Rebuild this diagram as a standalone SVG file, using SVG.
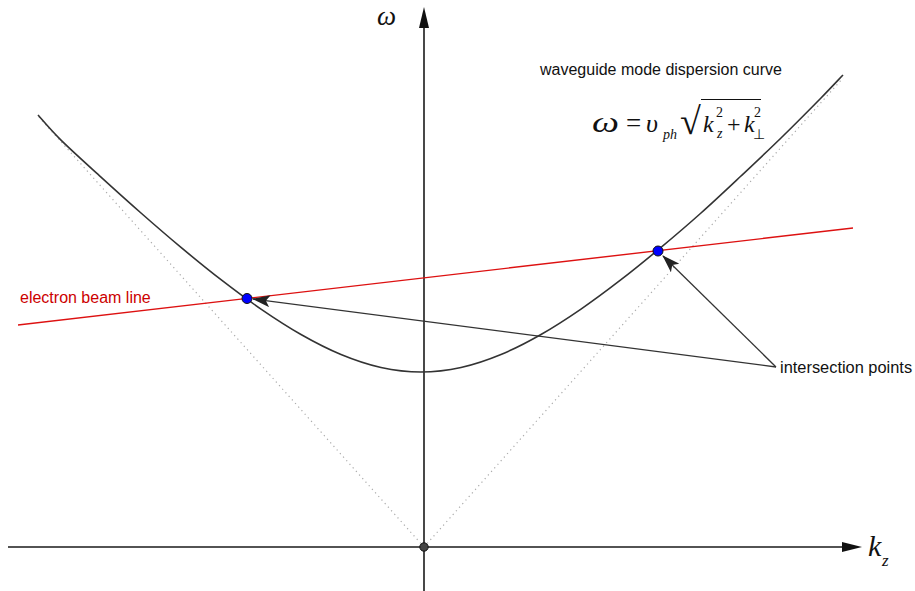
<svg xmlns="http://www.w3.org/2000/svg" width="915" height="591" viewBox="0 0 915 591">
<style>
.axis{stroke:#1a1a1a;stroke-width:1.6;fill:none}
.curve{stroke:#333;stroke-width:1.6;fill:none}
.dots{stroke:#aaa;stroke-width:1.2;stroke-dasharray:1.2 3.6;fill:none}
.beam{stroke:#dd1111;stroke-width:1.4;fill:none}
.ann{stroke:#333;stroke-width:1.3;fill:none}
.lbl{font-family:"Liberation Sans",Arial,sans-serif;fill:#111}
.math{font-family:"Liberation Serif","Times New Roman",serif;font-style:italic;fill:#111}
.up{font-family:"Liberation Serif","Times New Roman",serif;fill:#111}
</style>
<defs>
<marker id="ah" markerUnits="userSpaceOnUse" markerWidth="18" markerHeight="12" viewBox="0 0 18 12" refX="17" refY="6" orient="auto">
<path d="M0,0 L18,6 L0,12 L4,6 z" fill="#222"/>
</marker>
</defs>
<rect width="915" height="591" fill="#fff"/>
<g id="asymptotes">
<line class="dots" x1="424" y1="547" x2="38" y2="116"/>
<line class="dots" x1="424" y1="547" x2="843" y2="78"/>
</g>
<g id="axes">
<line class="axis" x1="8" y1="547" x2="846" y2="547"/>
<polygon points="862,547 842,542 842,552" fill="#111"/>
<line class="axis" x1="424" y1="591" x2="424" y2="24"/>
<polygon points="424,7 419,28 429,28" fill="#111"/>
<text class="math" x="377" y="25" font-size="27">ω</text>
<text class="math" x="868" y="556" font-size="30">k</text>
<text class="math" x="882" y="566" font-size="17">z</text>
</g>
<g id="dispersion-curve">
<path class="curve" d="M38,115 C41.8,119.2 50.5,129.75 61,140.1 C71.5,150.45 87.67,164.95 101,177.1 C114.33,189.25 127.67,201.28 141,213 C154.33,224.72 167.67,236.28 181,247.4 C194.33,258.52 207.67,269.42 221,279.7 C234.33,289.98 247.67,299.97 261,309.1 C274.33,318.23 287.67,326.93 301,334.5 C314.33,342.07 327.67,349 341,354.5 C354.33,360 367.67,364.58 381,367.5 C394.33,370.42 407.67,372 421,372 C434.33,372 447.67,370.42 461,367.5 C474.33,364.58 487.67,360 501,354.5 C514.33,349 527.67,342.07 541,334.5 C554.33,326.93 567.67,318.23 581,309.1 C594.33,299.97 607.67,289.98 621,279.7 C634.33,269.42 647.67,258.52 661,247.4 C674.33,236.28 687.67,224.9 701,213 C714.33,201.1 727.67,188.5 741,176 C754.33,163.5 767.67,151 781,138 C794.33,125 810.67,108.5 821,98 C831.33,87.5 839.33,78.83 843,75"/>
</g>
<g id="beam-line">
<line class="beam" x1="18" y1="325" x2="853" y2="228"/>
<text class="lbl" x="20" y="303" font-size="16" style="fill:#cc0000">electron beam line</text>
</g>
<g id="connectors">
<line class="ann" x1="776" y1="367" x2="253" y2="299" marker-end="url(#ah)"/>
<line class="ann" x1="776" y1="367" x2="663" y2="256" marker-end="url(#ah)"/>
</g>
<g id="origin">
<circle cx="424" cy="547" r="4.2" fill="#444" stroke="#111" stroke-width="1"/>
</g>
<g id="point-left">
<circle cx="247" cy="298.5" r="5" fill="#0000ff" stroke="#111" stroke-width="1"/>
</g>
<g id="point-right">
<circle cx="658" cy="251" r="5" fill="#0000ff" stroke="#111" stroke-width="1"/>
</g>
<g id="intersection-label">
<text class="lbl" x="780" y="373" font-size="16.4">intersection points</text>
</g>
<g id="title">
<text class="lbl" x="540" y="75" font-size="16">waveguide mode dispersion curve</text>
</g>
<g id="formula">
<text class="math" x="592" y="132" font-size="30" textLength="27" lengthAdjust="spacingAndGlyphs">ω</text>
<text class="up" x="626" y="132" font-size="27">=</text>
<text class="math" x="646" y="132" font-size="26">υ</text>
<text class="math" x="663" y="139" font-size="14">ph</text>
<text class="up" x="680" y="134" font-size="38">√</text>
<line x1="701" y1="99.5" x2="761" y2="99.5" stroke="#111" stroke-width="1.2"/>
<text class="math" x="703" y="132" font-size="24">k</text>
<text class="up" x="716" y="117" font-size="14">2</text>
<text class="math" x="717" y="138" font-size="14">z</text>
<text class="up" x="727" y="132" font-size="24">+</text>
<text class="math" x="744" y="132" font-size="24">k</text>
<text class="up" x="754" y="117" font-size="14">2</text>
<text class="up" x="753" y="139" font-size="14">⊥</text>
</g>
</svg>
